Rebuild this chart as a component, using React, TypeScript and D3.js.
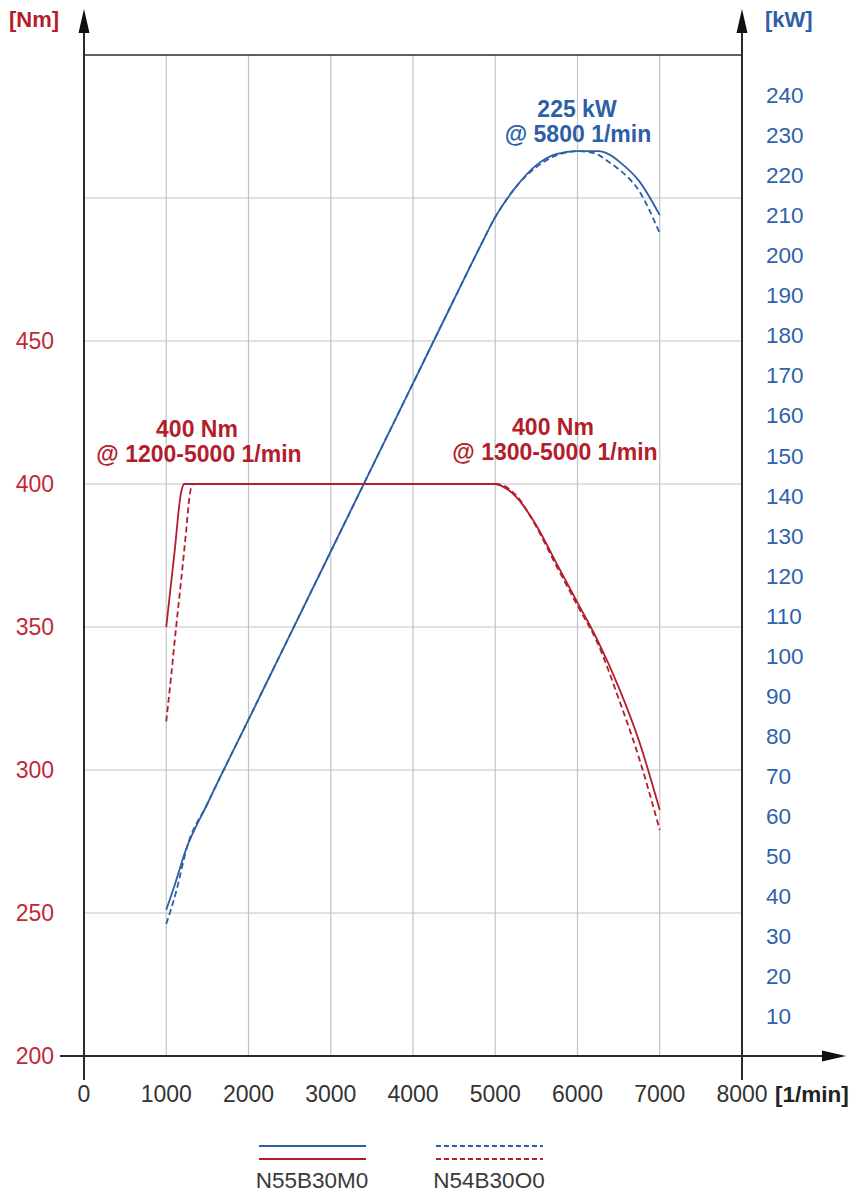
import React from "react";
import * as d3 from "d3";

const W = 853;
const H = 1198;

const rpmTicks = [0, 1000, 2000, 3000, 4000, 5000, 6000, 7000, 8000];
const nmTicks = [200, 250, 300, 350, 400, 450];
const nmGrid = [250, 300, 350, 400, 450, 500];
const kwTicks = [10, 20, 30, 40, 50, 60, 70, 80, 90, 100, 110, 120, 130, 140, 150, 160, 170, 180, 190, 200, 210, 220, 230, 240];

// N55B30M0 torque (solid red)
const n55TorqueRpm = [1000, 1100, 1180, 1220, 1260, 5000, 5100, 5200, 5300, 5400, 5500, 5750, 6000, 6250, 6500, 6750, 7000];
const n55TorqueNm = [350, 376, 397, 400, 400, 400, 399, 397, 394, 390, 385.5, 372, 358.5, 345, 329, 310, 286];
// N54B30O0 torque (dashed red)
const n54TorqueRpm = [1000, 1060, 1120, 1180, 1240, 1290, 1320, 5000, 5100, 5200, 5300, 5400, 5500, 5750, 6000, 6250, 6500, 6750, 7000];
const n54TorqueNm = [317, 333, 350, 366, 383, 397, 400, 400, 399.5, 397.5, 394.5, 390, 385, 371, 357.5, 344, 325, 304, 279];
// N55B30M0 power (solid blue)
const n55PowerRpm = [1000, 1100, 1230, 1500, 2000, 3000, 4000, 4500, 4800, 5000, 5250, 5500, 5750, 6000, 6250, 6400, 6500, 6750, 7000];
const n55PowerKw = [36.5, 42.5, 51, 63, 84, 126, 168, 189, 201.5, 209.5, 217, 222.5, 225.3, 226, 226, 225, 223.5, 218.5, 210];
// N54B30O0 power (dashed blue)
const n54PowerRpm = [1000, 1120, 1250, 1500, 2000, 3000, 4000, 4500, 4800, 5000, 5250, 5500, 5750, 6000, 6200, 6400, 6500, 6750, 7000];
const n54PowerKw = [33, 41, 52, 63, 84, 126, 168, 189, 201.5, 209.5, 217, 222, 225, 226, 225.5, 223, 221.5, 216, 205.5];

const legendNames = ["N55B30M0", "N54B30O0"];

const RED = "#b31d2c";
const BLUE = "#2c5fa7";
const RED_T = "#c02a38";
const BLUE_T = "#2f62ab";
const GRID = "#c4c4c4";
const AX = "#2a2a2a";
const FONT = "'Liberation Sans', Arial, Helvetica, sans-serif";

export default function App() {
  const x = d3.scaleLinear().domain([0, 8000]).range([84, 742]);
  const yL = d3.scaleLinear().domain([200, 550]).range([1056, 55]);
  const yR = d3.scaleLinear().domain([0, 250]).range([1056, 55]);

  const lineL = d3
    .line<[number, number]>()
    .x((d) => x(d[0]))
    .y((d) => yL(d[1]))
    .curve(d3.curveMonotoneX);
  const lineR = d3
    .line<[number, number]>()
    .x((d) => x(d[0]))
    .y((d) => yR(d[1]))
    .curve(d3.curveMonotoneX);

  const zip = (a: number[], b: number[]) => a.map((v, i) => [v, b[i]] as [number, number]);

  const dash = "6,3.5";

  return (
    <svg width={W} height={H} style={{ display: "block", position: "absolute", left: 0, top: 0, background: "#fff" }} fontFamily={FONT}>
      <rect x={0} y={0} width={W} height={H} fill="#fff" />
      {/* grid */}
      {rpmTicks.slice(1, 8).map((t) => (
        <line key={"vg" + t} x1={x(t)} x2={x(t)} y1={55} y2={1056} stroke={GRID} strokeWidth={1.2} />
      ))}
      {nmGrid.map((t) => (
        <line key={"hg" + t} x1={84} x2={742} y1={yL(t)} y2={yL(t)} stroke={GRID} strokeWidth={1.2} />
      ))}
      {/* top border */}
      <line x1={84} x2={742} y1={55} y2={55} stroke={AX} strokeWidth={1.5} />

      {/* curves */}
      <path d={lineR(zip(n54PowerRpm, n54PowerKw)) || ""} fill="none" stroke={BLUE} strokeWidth={1.8} strokeDasharray={dash} />
      <path d={lineR(zip(n55PowerRpm, n55PowerKw)) || ""} fill="none" stroke={BLUE} strokeWidth={1.8} />
      <path d={lineL(zip(n54TorqueRpm, n54TorqueNm)) || ""} fill="none" stroke={RED} strokeWidth={1.8} strokeDasharray={dash} />
      <path d={lineL(zip(n55TorqueRpm, n55TorqueNm)) || ""} fill="none" stroke={RED} strokeWidth={1.8} />

      {/* axes */}
      <line x1={84} x2={84} y1={30} y2={1080} stroke={AX} strokeWidth={2} />
      <path d="M84,9 L89.5,33 L78.5,33 Z" fill="#111" />
      <line x1={742} x2={742} y1={30} y2={1080} stroke={AX} strokeWidth={2} />
      <path d="M742,9 L747.5,33 L736.5,33 Z" fill="#111" />
      <line x1={60} x2={826} y1={1056} y2={1056} stroke={AX} strokeWidth={2} />
      <path d="M846,1056 L822,1050.5 L822,1061.5 Z" fill="#111" />

      {/* tick labels */}
      {nmTicks.map((t) => (
        <text key={"nl" + t} x={54} y={yL(t)} dy="0.36em" textAnchor="end" fontSize={23} fill={RED_T}>
          {t}
        </text>
      ))}
      {kwTicks.map((t) => (
        <text key={"kl" + t} x={766} y={yR(t)} dy="0.36em" textAnchor="start" fontSize={22.5} fill={BLUE_T}>
          {t}
        </text>
      ))}
      {rpmTicks.map((t) => (
        <text key={"xl" + t} x={x(t)} y={1102} textAnchor="middle" fontSize={23} fill="#333">
          {t}
        </text>
      ))}

      {/* unit labels */}
      <text x={9} y={27} fontSize={22} fontWeight="bold" fill={RED}>[Nm]</text>
      <text x={765} y={27} fontSize={22} fontWeight="bold" fill={BLUE}>[kW]</text>
      <text x={775} y={1102} fontSize={22.5} fontWeight="bold" fill="#222">[1/min]</text>

      {/* annotations */}
      <g fontSize={23} fontWeight="bold" textAnchor="middle">
        <text x={577} y={117} fill={BLUE}>225 kW</text>
        <text x={578} y={142} fill={BLUE}>@ 5800 1/min</text>
        <text x={197} y={437} fill={RED}>400 Nm</text>
        <text x={199} y={462} fill={RED}>@ 1200-5000 1/min</text>
        <text x={553} y={435} fill={RED}>400 Nm</text>
        <text x={555} y={460} fill={RED}>@ 1300-5000 1/min</text>
      </g>

      {/* legend */}
      <line x1={259} x2={366} y1={1146} y2={1146} stroke={BLUE} strokeWidth={2} />
      <line x1={259} x2={366} y1={1159} y2={1159} stroke={RED} strokeWidth={2} />
      <line x1={436} x2={543} y1={1146} y2={1146} stroke={BLUE} strokeWidth={2} strokeDasharray="5,3" />
      <line x1={436} x2={543} y1={1159} y2={1159} stroke={RED} strokeWidth={2} strokeDasharray="5,3" />
      <text x={312} y={1188} textAnchor="middle" fontSize={22.5} fill="#3a3a3a">{legendNames[0]}</text>
      <text x={489} y={1188} textAnchor="middle" fontSize={22.5} fill="#3a3a3a">{legendNames[1]}</text>
    </svg>
  );
}
